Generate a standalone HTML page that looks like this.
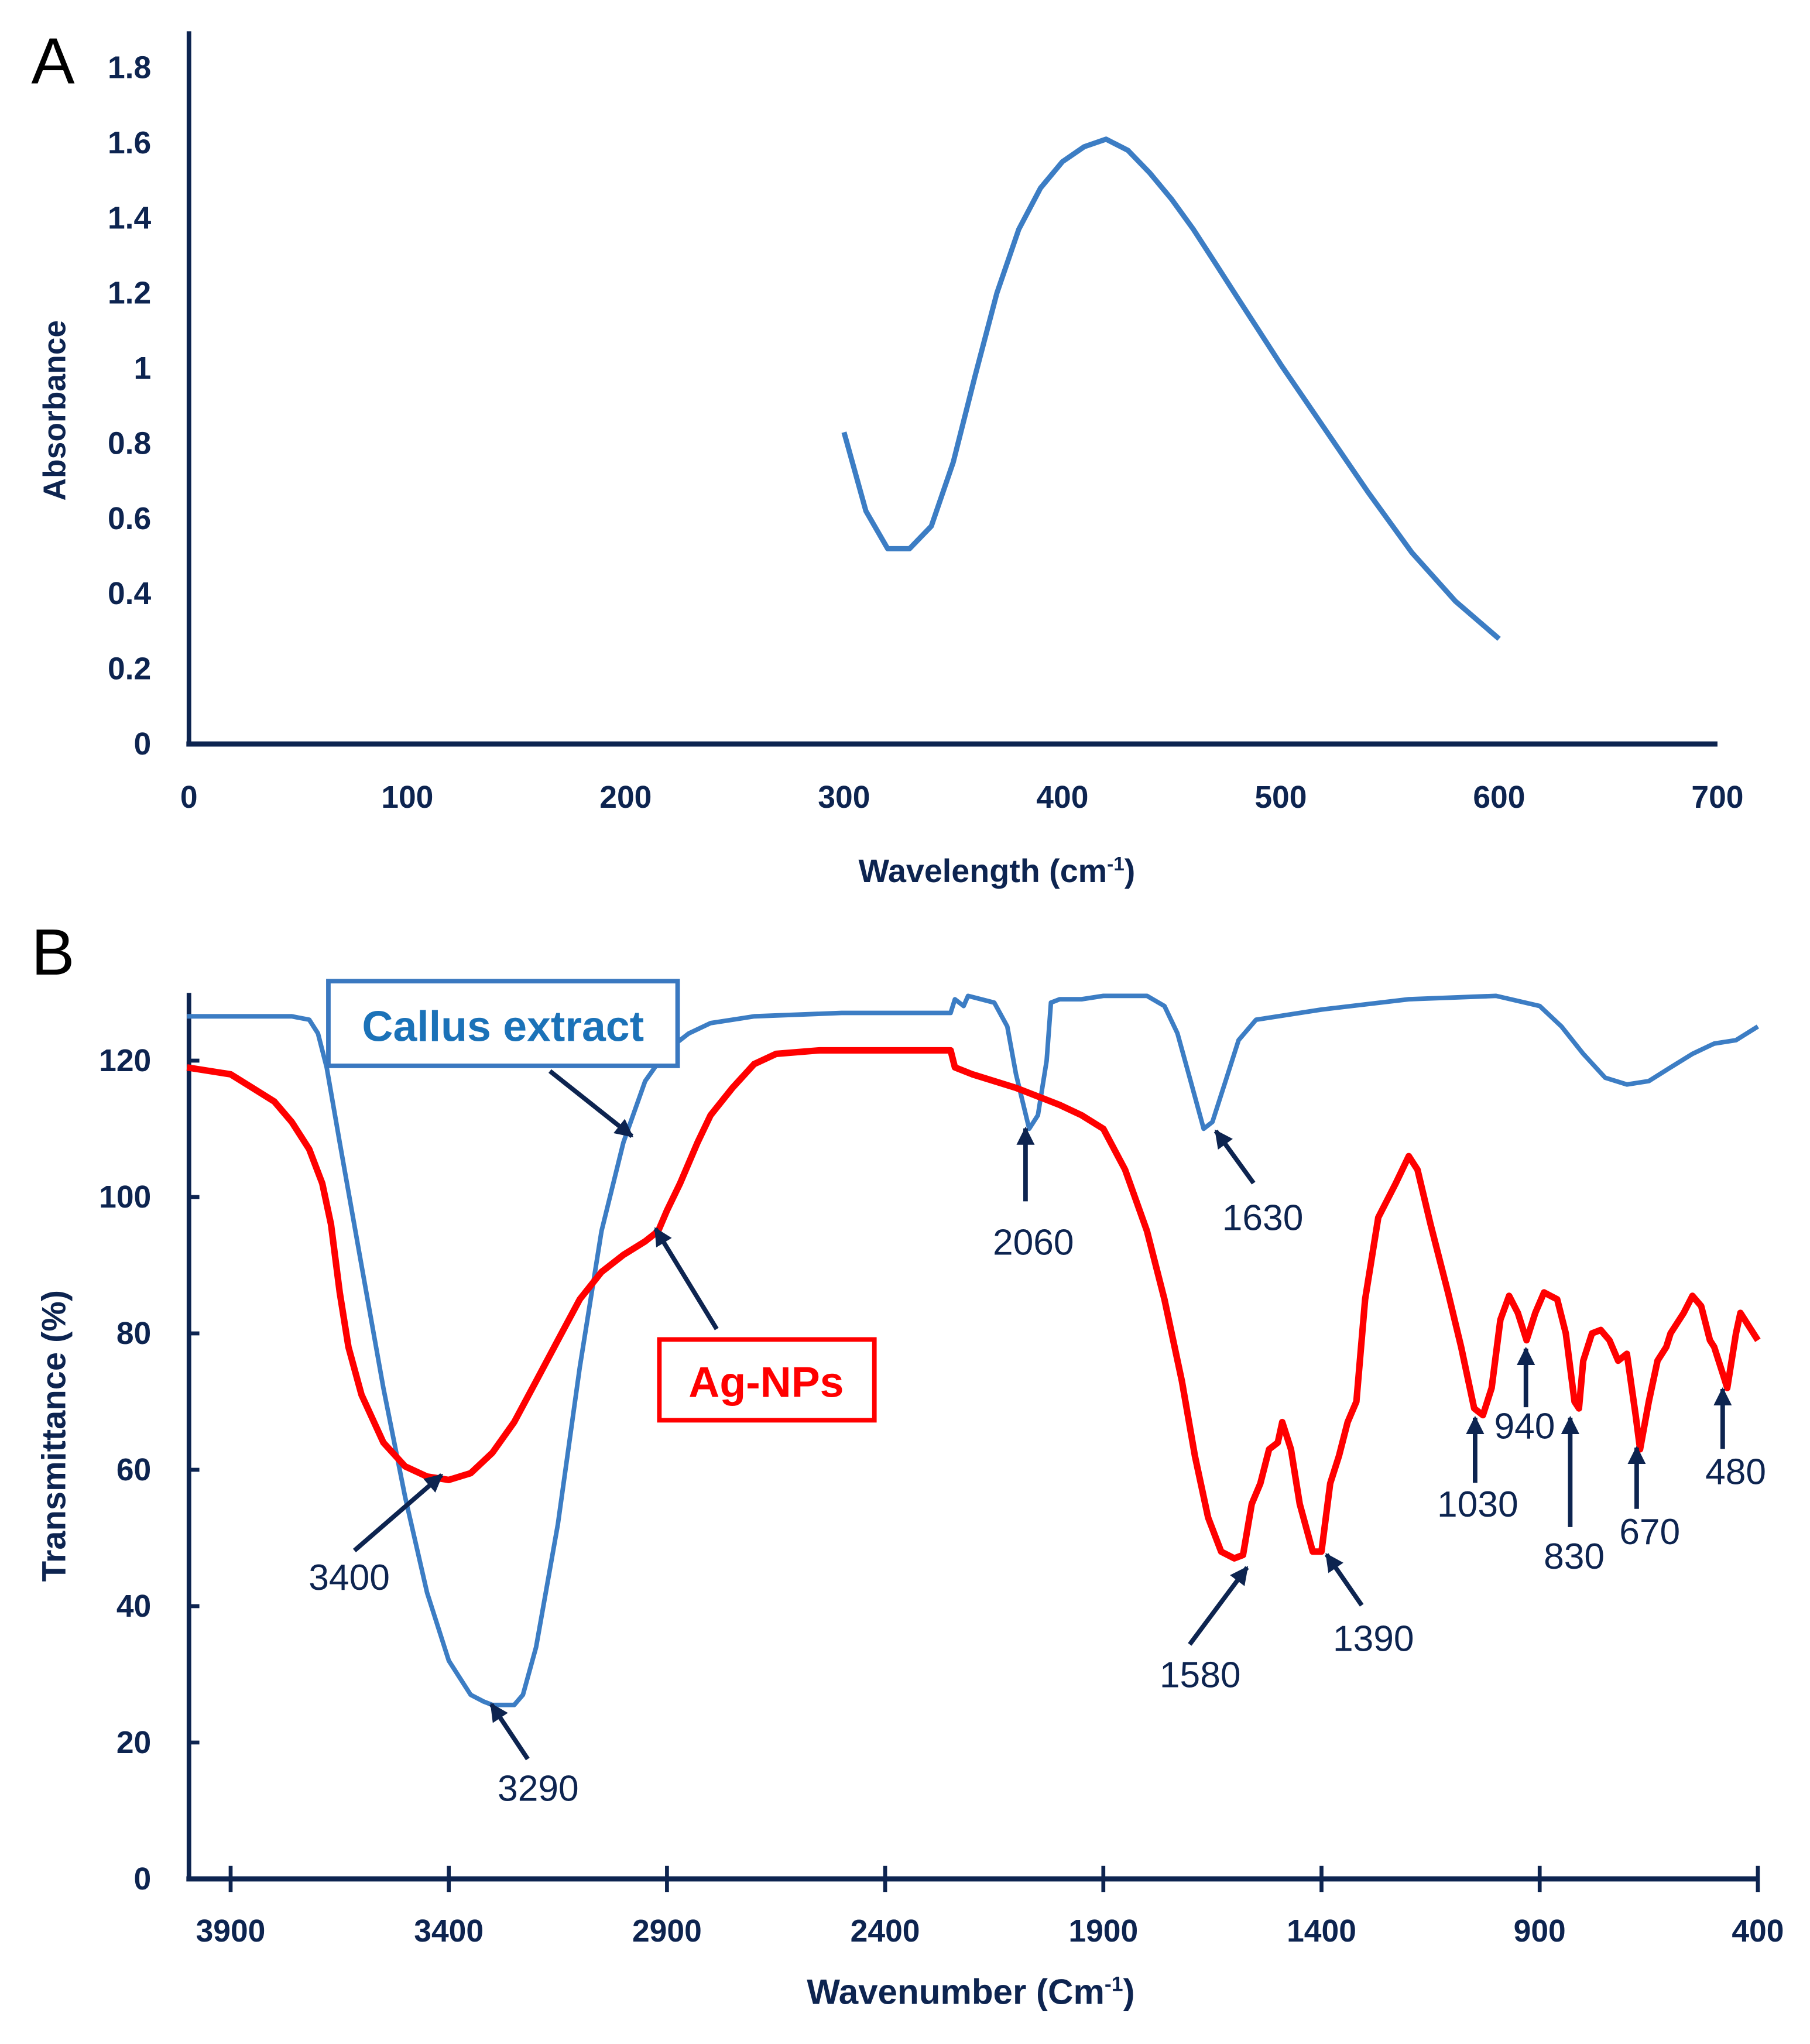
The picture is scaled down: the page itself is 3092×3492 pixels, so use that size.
<!DOCTYPE html>
<html><head><meta charset="utf-8"><style>
html,body{margin:0;padding:0;background:#fff;}
svg{display:block;}
text{font-family:"Liberation Sans",sans-serif;}
</style></head><body>
<svg id="fig" width="3092" height="3492" viewBox="0 0 1389 1568.7" xmlns="http://www.w3.org/2000/svg">
<g id="gA"></g>
<g id="gB"></g>
</svg>
<script>
// Panel A data
const aWavelength=[300,310,320,330,340,350,360,370,380,390,400,410,420,430,440,450,460,470,480,490,500,520,540,560,580,600];
const aAbsorbance=[0.83,0.62,0.52,0.52,0.58,0.75,0.98,1.2,1.37,1.48,1.55,1.59,1.61,1.58,1.52,1.45,1.37,1.28,1.19,1.1,1.01,0.84,0.67,0.51,0.38,0.28];
const aXTicks=[0,100,200,300,400,500,600,700];
const aYTicks=[0,0.2,0.4,0.6,0.8,1,1.2,1.4,1.6,1.8];
// Panel B data
const bCallusWn=[4000,3760,3720,3700,3680,3650,3600,3550,3500,3450,3400,3350,3320,3300,3250,3230,3200,3150,3100,3050,3000,2950,2900,2850,2800,2700,2500,2250,2240,2220,2210,2150,2120,2100,2070,2050,2030,2020,2000,1950,1900,1800,1760,1730,1700,1670,1650,1620,1590,1550,1400,1200,1000,900,850,800,750,700,650,600,550,500,450,400];
const bCallusT=[126.5,126.5,126,124,119,108,90,72,56,42,32,27,26,25.5,25.5,27,34,52,75,95,108,117,121.5,124,125.5,126.5,127,127,129,128,129.5,128.5,125,118,110,112,120,128.5,129,129,129.5,129.5,128,124,117,110,111,117,123,126,127.5,129,129.5,128,125,121,117.5,116.5,117,119,121,122.5,123,125];
const bAgWn=[4000,3900,3850,3800,3760,3720,3690,3670,3650,3630,3600,3550,3500,3450,3400,3350,3300,3250,3200,3150,3100,3050,3000,2950,2920,2900,2870,2830,2800,2750,2700,2650,2550,2400,2250,2240,2200,2100,2000,1950,1900,1850,1800,1760,1720,1690,1660,1630,1600,1580,1560,1540,1520,1500,1490,1470,1450,1420,1400,1380,1360,1340,1320,1300,1270,1230,1200,1180,1150,1110,1080,1050,1030,1010,990,970,950,930,910,890,860,840,820,810,800,780,760,740,720,700,680,670,650,630,610,600,570,550,530,510,500,480,470,450,440,420,400];
const bAgT=[119,118,116,114,111,107,102,96,86,78,71,64,60.5,59,58.5,59.5,62.5,67,73,79,85,89,91.5,93.5,95,98,102,108,112,116,119.5,121,121.5,121.5,121.5,119,118,116,113.5,112,110,104,95,85,73,62,53,48,47,47.5,55,58,63,64,67,63,55,48,48,58,62,67,70,85,97,102,106,104,96,86,78,69,68,72,82,85.5,83,79,83,86,85,80,70,69,76,80,80.5,79,76,77,68,63,70,76,78,80,83,85.5,84,79,78,74,72,80,83,81,79];
const bXTicks=[3900,3400,2900,2400,1900,1400,900,400];
const bYTicks=[0,20,40,60,80,100,120];
const bPeakLabels=["3400","3290","2060","1630","1580","1390","1030","940","830","670","480"];

const NS="http://www.w3.org/2000/svg";
const NAVY="#0d2450";
function mk(parent,tag,attrs,txt){const e=document.createElementNS(NS,tag);for(const k in attrs)e.setAttribute(k,attrs[k]);if(txt!==undefined)e.textContent=txt;parent.appendChild(e);return e;}

// ---- Panel A
const gA=document.getElementById('gA');
const ax=v=>145+v*(1318-145)/700;
const ay=v=>571-v*(571-52)/1.8;
let t=mk(gA,'text',{x:24,y:64,'font-size':50,fill:'#000'},'A');

let l=mk(gA,'line',{x1:145,y1:24,x2:145,y2:572,stroke:NAVY,'stroke-width':3.5});

l=mk(gA,'line',{x1:143,y1:571,x2:1318,y2:571,stroke:NAVY,'stroke-width':4});

aYTicks.forEach(v=>{t=mk(gA,'text',{x:116,y:ay(v)+8,'font-size':24,'font-weight':'bold',fill:NAVY,'text-anchor':'end'},String(v));
});
aXTicks.forEach(v=>{t=mk(gA,'text',{x:ax(v),y:620,'font-size':24,'font-weight':'bold',fill:NAVY,'text-anchor':'middle'},String(v));
});
t=mk(gA,'text',{x:765,y:677,'font-size':25,'font-weight':'bold',fill:NAVY,'text-anchor':'middle'});
t.innerHTML='Wavelength (cm<tspan dy="-9" font-size="15">-1</tspan><tspan dy="9">)</tspan>';

t=mk(gA,'text',{x:50,y:315,'font-size':24,'font-weight':'bold',fill:NAVY,'text-anchor':'middle',transform:'rotate(-90 50 315)'},'Absorbance');

let p=mk(gA,'path',{d:aWavelength.map((w,i)=>(i?'L':'M')+ax(w).toFixed(1)+','+ay(aAbsorbance[i]).toFixed(1)).join(''),fill:'none',stroke:'#3c7dc4','stroke-width':4,'stroke-linejoin':'round'});


// ---- Panel B
const gB=document.getElementById('gB');
const bx=w=>143.5+(4000-w)*(1349-177)/3500;
const by=v=>1442-v*(1442-814)/120;
t=mk(gB,'text',{x:24,y:748,'font-size':50,fill:'#000'},'B');

l=mk(gB,'line',{x1:145,y1:762,x2:145,y2:1443,stroke:NAVY,'stroke-width':3.5});

l=mk(gB,'line',{x1:143,y1:1442,x2:1350,y2:1442,stroke:NAVY,'stroke-width':4});

bYTicks.forEach(v=>{l=mk(gB,'line',{x1:145,y1:by(v),x2:153,y2:by(v),stroke:NAVY,'stroke-width':3});

t=mk(gB,'text',{x:116,y:by(v)+8,'font-size':24,'font-weight':'bold',fill:NAVY,'text-anchor':'end'},String(v));
});
bXTicks.forEach(v=>{l=mk(gB,'line',{x1:bx(v),y1:1432,x2:bx(v),y2:1452,stroke:NAVY,'stroke-width':3});

t=mk(gB,'text',{x:bx(v),y:1490,'font-size':24,'font-weight':'bold',fill:NAVY,'text-anchor':'middle'},String(v));
});
t=mk(gB,'text',{x:745,y:1538,'font-size':27,'font-weight':'bold',fill:NAVY,'text-anchor':'middle'});
t.innerHTML='Wavenumber (Cm<tspan dy="-10" font-size="16">-1</tspan><tspan dy="10">)</tspan>';

t=mk(gB,'text',{x:50,y:1102,'font-size':26,'font-weight':'bold',fill:NAVY,'text-anchor':'middle',transform:'rotate(-90 50 1102)'},'Transmittance (%)');

p=mk(gB,'path',{d:bCallusWn.map((w,i)=>(i?'L':'M')+bx(w).toFixed(1)+','+by(bCallusT[i]).toFixed(1)).join(''),fill:'none',stroke:'#3c7dc4','stroke-width':3.5,'stroke-linejoin':'round'});

p=mk(gB,'path',{d:bAgWn.map((w,i)=>(i?'L':'M')+bx(w).toFixed(1)+','+by(bAgT[i]).toFixed(1)).join(''),fill:'none',stroke:'#ff0000','stroke-width':5,'stroke-linejoin':'round'});


// legend boxes
let r=mk(gB,'rect',{x:252,y:753,width:268,height:65,fill:'#fff',stroke:'#3a78c0','stroke-width':3.5});

t=mk(gB,'text',{x:386,y:799,'font-size':33,'font-weight':'bold',fill:'#1b72b8','text-anchor':'middle'},'Callus extract');

r=mk(gB,'rect',{x:506,y:1028,width:165,height:62,fill:'#fff',stroke:'#ff0000','stroke-width':3.5});

t=mk(gB,'text',{x:588,y:1072,'font-size':33,'font-weight':'bold',fill:'#ff0000','text-anchor':'middle'},'Ag-NPs');


// arrows
mk(document.getElementById('fig'),'defs',{}).innerHTML='<marker id="ah" viewBox="0 0 10 10" refX="9" refY="5" markerWidth="4" markerHeight="4" orient="auto"><path d="M0,0L10,5L0,10z" fill="'+NAVY+'"/></marker>';
function arrow(x1,y1,x2,y2,name){const a=mk(gB,'line',{x1:x1,y1:y1,x2:x2,y2:y2,stroke:NAVY,'stroke-width':3.5,'marker-end':'url(#ah)'});
}
arrow(422,822,485,872,'callus-arrow');
arrow(550,1020,503,943,'ag-nps-arrow');
const arrowsGeo=[[272,1190,339,1132,268,1220],[405,1350,377,1308,413,1382],[787,922,787,866,793,963],[962,908,933,868,969,944],[913,1262,957,1203,921,1295],[1045,1232,1018,1193,1054,1267],[1132,1138,1132,1088,1134,1164],[1171,1080,1171,1035,1170,1104],[1205,1172,1205,1088,1208,1204],[1256,1158,1256,1111,1266,1185],[1322,1112,1322,1066,1332,1139]];
bPeakLabels.forEach((lab,i)=>{const g=arrowsGeo[i];arrow(g[0],g[1],g[2],g[3],'peak-arrow-'+lab);
const tx=mk(gB,'text',{x:g[4],y:g[5],'font-size':28,fill:NAVY,'text-anchor':'middle'},lab);
});
</script>
</body></html>
